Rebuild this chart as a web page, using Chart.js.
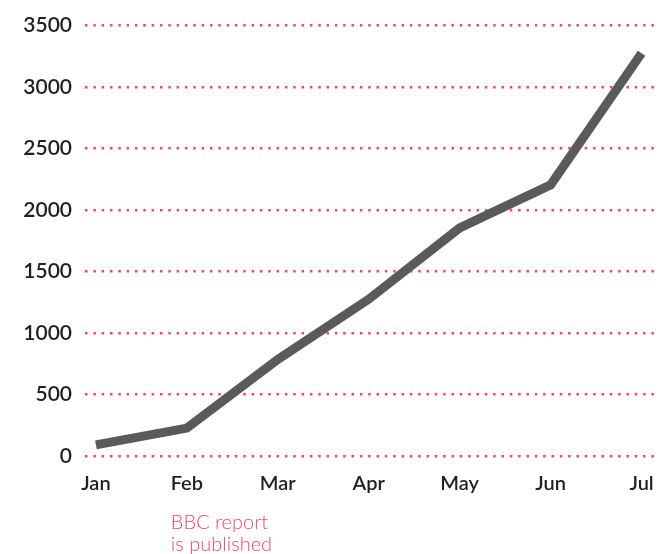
<!DOCTYPE html>
<html>
<head>
<meta charset="utf-8">
<script src="https://cdn.jsdelivr.net/npm/chart.js@4.4.1/dist/chart.umd.min.js"></script>
<style>
	html, body { margin: 0; padding: 0; background: #ffffff; }
	#wrap { width: 670px; height: 554px; position: relative; }
</style>
</head>
<body>
<div id="wrap"><canvas id="reportChart"></canvas></div>
<script>
var MONTHS = ['Jan', 'Feb', 'Mar', 'Apr', 'May', 'Jun', 'Jul'];
var reportCounts = [90, 227, 785, 1275, 1855, 2205, 3275];
var Y_TICKS = [0, 500, 1000, 1500, 2000, 2500, 3000, 3500];
var NOTE_MONTH = 1;
var NOTE_LINES = ['BBC report', 'is published'];

var COLORS = {
	line: '#5a5a5d',
	grid: '#f04a5e',
	text: '#231f20',
	note: '#ee4b60'
};

var noteLabel = {
	id: 'noteLabel',
	afterDraw: function (chart) {
		var ctx = chart.ctx;
		var x = chart.scales.x.getPixelForValue(NOTE_MONTH) - 16;
		ctx.save();
		ctx.fillStyle = COLORS.note;
		ctx.font = '300 20px Lato';
		ctx.textAlign = 'left';
		ctx.textBaseline = 'alphabetic';
		NOTE_LINES.forEach(function (line, i) {
			ctx.fillText(line, x, 529 + i * 22);
		});
		ctx.restore();
	}
};

var reportData = {
	datasets: [{
		label: 'Reports',
		data: reportCounts.map(function (v, i) { return { x: i, y: v }; }),
		borderColor: COLORS.line,
		backgroundColor: COLORS.line,
		borderWidth: 9,
		tension: 0,
		pointRadius: 0,
		borderCapStyle: 'butt',
		borderJoinStyle: 'miter'
	}]
};

var reportOptions = {
	responsive: true,
	maintainAspectRatio: false,
	animation: false,
	layout: {
		padding: { top: 24, right: 10, left: 0, bottom: 0 }
	},
	scales: {
		x: {
			type: 'linear',
			min: -0.12,
			max: 6.18,
			grid: { display: false, drawTicks: false },
			border: { display: false },
			afterBuildTicks: function (scale) {
				scale.ticks = MONTHS.map(function (m, i) { return { value: i }; });
			},
			afterFit: function (scale) {
				scale.height = 98;
			},
			ticks: {
				padding: 16,
				color: COLORS.text,
				font: { family: 'Lato', size: 20, weight: '600' },
				maxRotation: 0,
				autoSkip: false,
				callback: function (value) {
					return MONTHS[value];
				}
			}
		},
		y: {
			min: 0,
			max: 3500,
			afterBuildTicks: function (scale) {
				scale.ticks = Y_TICKS.map(function (v) { return { value: v }; });
			},
			afterFit: function (scale) {
				scale.width = 85;
			},
			grid: {
				color: COLORS.grid,
				lineWidth: 2.5,
				drawTicks: false
			},
			border: { display: false, dash: [2.5, 5.83] },
			ticks: {
				padding: 13,
				color: COLORS.text,
				font: { family: 'Lato', size: 21, weight: '600' },
				callback: function (value) {
					return String(value);
				}
			}
		}
	},
	plugins: {
		legend: { display: false },
		title: { display: false },
		tooltip: { enabled: false }
	}
};

var reportChart = new Chart(document.getElementById('reportChart'), {
	type: 'line',
	data: reportData,
	options: reportOptions,
	plugins: [noteLabel]
});
</script>
</body>
</html>
